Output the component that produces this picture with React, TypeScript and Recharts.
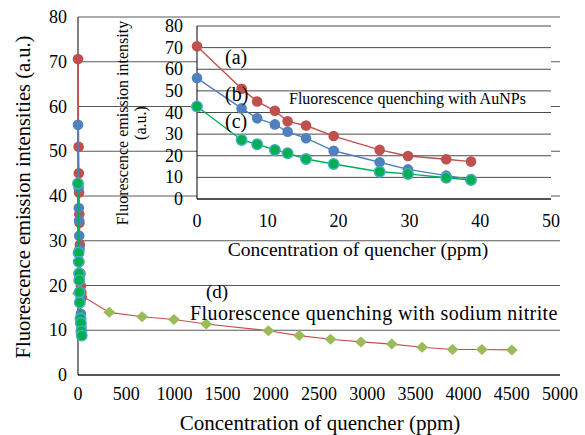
import React from 'react';
import { ScatterChart, Scatter, XAxis, YAxis, CartesianGrid, ReferenceLine } from 'recharts';

const FONT = "'Liberation Serif', 'Times New Roman', Times, serif";

// AuNP concentrations (ppm), shared by the three AuNP series (a), (b), (c)
const auConc = [0, 6.3, 8.5, 11.0, 12.8, 15.4, 19.3, 25.8, 29.8, 35.2, 38.7];
const seriesA = [70.6, 51.0, 45.1, 40.8, 35.9, 34.0, 29.1, 22.7, 19.9, 18.4, 17.3];
const seriesB = [55.9, 41.9, 37.3, 34.5, 31.1, 28.1, 22.3, 17.0, 13.7, 10.8, 9.2];
const seriesC = [42.8, 27.3, 25.3, 22.7, 21.2, 18.5, 16.2, 12.6, 11.6, 9.8, 8.8];

// Sodium nitrite concentrations (ppm) and intensities, series (d)
const nitriteConc = [0, 325, 665, 995, 1330, 1975, 2295, 2620, 2935, 3255, 3570, 3885, 4190, 4500];
const seriesD = [18.2, 14.0, 13.0, 12.4, 11.4, 9.9, 8.8, 8.0, 7.4, 6.9, 6.2, 5.7, 5.7, 5.6];

const mainXTicks = [0, 500, 1000, 1500, 2000, 2500, 3000, 3500, 4000, 4500, 5000];
const mainYTicks = [0, 10, 20, 30, 40, 50, 60, 70, 80];
const insetXTicks = [0, 10, 20, 30, 40, 50];
const insetYTicks = [0, 10, 20, 30, 40, 50, 60, 70, 80];

const toPoints = (xs: number[], ys: number[]) => xs.map((x, i) => ({ x, y: ys[i] }));

const dataA = toPoints(auConc, seriesA);
const dataB = toPoints(auConc, seriesB);
const dataC = toPoints(auConc, seriesC);
const dataD = toPoints(nitriteConc, seriesD);

const RED = '#c0504d';
const BLUE = '#4f81bd';
const GREEN = '#00b050';
const CYAN = '#4bacc6';
const OLIVE = '#9bbb59';

const serif: React.CSSProperties = { fontFamily: FONT };

const circle = (fill: string, stroke?: string) => (p: any) => (
  <circle
    cx={p.cx}
    cy={p.cy}
    r={5.3}
    fill={fill}
    stroke={stroke ?? 'none'}
    strokeWidth={stroke ? 1.4 : 0}
  />
);

const diamond = (p: any) => (
  <path
    d={`M${p.cx},${p.cy - 5.5}L${p.cx + 6},${p.cy}L${p.cx},${p.cy + 5.5}L${p.cx - 6},${p.cy}Z`}
    fill={OLIVE}
  />
);

// Tick labels drawn as plain serif text
const xTick = (gap: number) => (p: any) => (
  <text x={p.x} y={p.y + gap} textAnchor="middle" dominantBaseline="central" fontSize={18} fill="#000" style={serif}>
    {p.payload.value}
  </text>
);
const yTick = (gap: number) => (p: any) => (
  <text x={p.x - gap} y={p.y} textAnchor="end" dominantBaseline="central" fontSize={18} fill="#000" style={serif}>
    {p.payload.value}
  </text>
);

function AuSeries() {
  return [
    <Scatter
      key="a"
      data={dataA}
      line={{ stroke: RED, strokeWidth: 1.4 }}
      lineType="joint"
      shape={circle(RED)}
      isAnimationActive={false}
    />,
    <Scatter
      key="b"
      data={dataB}
      line={{ stroke: BLUE, strokeWidth: 1.4 }}
      lineType="joint"
      shape={circle(BLUE)}
      isAnimationActive={false}
    />,
    <Scatter
      key="c"
      data={dataC}
      line={{ stroke: GREEN, strokeWidth: 1.4 }}
      lineType="joint"
      shape={circle(GREEN, CYAN)}
      isAnimationActive={false}
    />,
  ];
}

export default function App() {
  return (
    <div style={{ position: 'absolute', left: 0, top: 0, width: 585, height: 435, background: '#fff', fontFamily: FONT }}>
      {/* Main chart: sodium nitrite quenching over 0-5000 ppm */}
      <div style={{ position: 'absolute', left: 0, top: 0 }}>
        <ScatterChart width={585} height={435} margin={{ top: 17, right: 25, bottom: 0, left: 0 }}>
          <CartesianGrid horizontal vertical={false} stroke="#595959" />
          <XAxis
            type="number"
            dataKey="x"
            domain={[0, 5000]}
            ticks={mainXTicks}
            interval={0}
            height={60}
            tickSize={0}
            tickMargin={0}
            axisLine={{ stroke: '#000' }}
            tick={xTick(19)}
          />
          <YAxis
            type="number"
            dataKey="y"
            domain={[0, 80]}
            ticks={mainYTicks}
            interval={0}
            width={78}
            tickSize={0}
            tickMargin={0}
            axisLine={{ stroke: '#000' }}
            tick={yTick(11)}
          />
          <Scatter
            data={dataD}
            line={{ stroke: RED, strokeWidth: 1.1 }}
            lineType="joint"
            shape={diamond}
            isAnimationActive={false}
          />
          {AuSeries()}
        </ScatterChart>
      </div>

      {/* Inset chart: AuNP quenching over 0-50 ppm */}
      <div style={{ position: 'absolute', left: 100, top: 0 }}>
        <ScatterChart width={470} height={270} margin={{ top: 26, right: 19, bottom: 0, left: 0 }}>
          <CartesianGrid horizontal vertical={false} stroke="#4a4a4a" fill="#fff" fillOpacity={1} />
          <XAxis
            type="number"
            dataKey="x"
            domain={[0, 50]}
            ticks={insetXTicks}
            interval={0}
            height={71}
            tickSize={0}
            tickMargin={0}
            axisLine={{ stroke: '#000' }}
            tick={xTick(22)}
          />
          <YAxis
            type="number"
            dataKey="y"
            domain={[0, 80]}
            ticks={insetYTicks}
            interval={0}
            width={97}
            tickSize={0}
            tickMargin={0}
            axisLine={{ stroke: '#000' }}
            tick={yTick(14)}
          />
          {AuSeries()}
        </ScatterChart>
      </div>

      {/* Annotation arrows, placed with the main chart's scales */}
      <div style={{ position: 'absolute', left: 0, top: 0, pointerEvents: 'none' }}>
        <ScatterChart width={585} height={435} margin={{ top: 17, right: 25, bottom: 60, left: 78 }}>
          <XAxis type="number" dataKey="x" domain={[0, 5000]} hide />
          <YAxis type="number" dataKey="y" domain={[0, 80]} hide />
          <ReferenceLine segment={[{ x: 1712, y: 50.2 }, { x: 235, y: 22.5 }]} stroke="#000" strokeWidth={1.2} ifOverflow="visible" />
          <ReferenceLine segment={[{ x: 235, y: 22.5 }, { x: 350, y: 22.5 }]} stroke="#000" strokeWidth={1.2} ifOverflow="visible" />
          <ReferenceLine segment={[{ x: 235, y: 22.5 }, { x: 235, y: 24.5 }]} stroke="#000" strokeWidth={1.2} ifOverflow="visible" />
          <ReferenceLine segment={[{ x: 3734, y: 12.3 }, { x: 3734, y: 8.0 }]} stroke="#000" strokeWidth={1.1} ifOverflow="visible" />
          <ReferenceLine segment={[{ x: 3734, y: 8.0 }, { x: 3677, y: 9.4 }]} stroke="#000" strokeWidth={1.1} ifOverflow="visible" />
          <ReferenceLine segment={[{ x: 3734, y: 8.0 }, { x: 3791, y: 9.4 }]} stroke="#000" strokeWidth={1.1} ifOverflow="visible" />
        </ScatterChart>
      </div>

      {/* Titles and labels */}
      <svg
        width={585}
        height={435}
        style={{ position: 'absolute', left: 0, top: 0, pointerEvents: 'none', fontFamily: FONT }}
        fill="#000"
      >
        <text x={320} y={430} fontSize={21} textAnchor="middle" style={serif}>Concentration of quencher (ppm)</text>
        <text
          x={23}
          y={197}
          fontSize={20.5}
          textAnchor="middle"
          dominantBaseline="central"
          transform="rotate(-90 23 197)"
          style={serif}
        >
          Fluorescence emission intensities (a.u.)
        </text>
        <text x={358} y={256} fontSize={19.5} textAnchor="middle" style={serif}>Concentration of quencher (ppm)</text>
        <text
          x={122}
          y={123}
          fontSize={16}
          textAnchor="middle"
          dominantBaseline="central"
          transform="rotate(-90 122 123)"
          style={serif}
        >
          Fluorescence emission intensity
        </text>
        <text
          x={140}
          y={123}
          fontSize={16}
          textAnchor="middle"
          dominantBaseline="central"
          transform="rotate(-90 140 123)"
          style={serif}
        >
          (a.u.)
        </text>
        <text x={225} y={64} fontSize={20} style={serif}>(a)</text>
        <text x={225} y={101} fontSize={20} style={serif}>(b)</text>
        <text x={225} y={128} fontSize={20} style={serif}>(c)</text>
        <text x={289} y={104} fontSize={16} style={serif}>Fluorescence quenching with AuNPs</text>
        <text x={206} y={298} fontSize={19} style={serif}>(d)</text>
        <text x={190} y={320} fontSize={20} letterSpacing={0.4} style={serif}>Fluorescence quenching with sodium nitrite</text>
      </svg>
    </div>
  );
}
